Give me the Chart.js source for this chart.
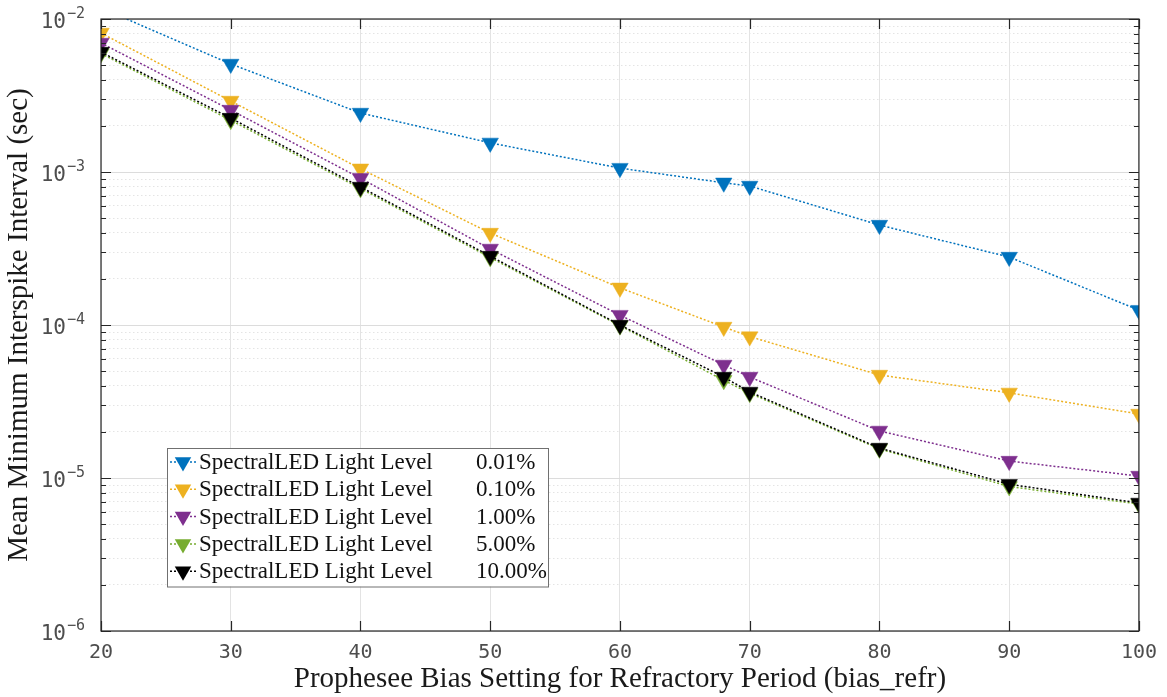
<!DOCTYPE html>
<html>
<head>
<meta charset="utf-8">
<script src="https://cdn.jsdelivr.net/npm/chart.js@4.4.1/dist/chart.umd.min.js"></script>
<style>
  html, body { margin: 0; padding: 0; background: #fff; }
  #wrap { width: 1167px; height: 697px; position: relative; }
</style>
</head>
<body>
<div id="wrap"><canvas id="isiChart"></canvas></div>
<script>
// bias_refr settings and mean minimum interspike interval (sec) per light level
const biasRefr = [20, 30, 40, 50, 60, 68, 70, 80, 90, 100];
const level001 = [1.18e-2, 5.08e-3, 2.43e-3, 1.55e-3, 1.06e-3, 8.5e-4, 8.1e-4, 4.5e-4, 2.78e-4, 1.25e-4];
const level010 = [8.1e-3, 2.91e-3, 1.05e-3, 3.99e-4, 1.75e-4, 9.7e-5, 8.4e-5, 4.71e-5, 3.6e-5, 2.62e-5];
const level100 = [6.97e-3, 2.54e-3, 9.1e-4, 3.14e-4, 1.16e-4, 5.48e-5, 4.57e-5, 2.03e-5, 1.29e-5, 1.03e-5];
const level500 = [5.95e-3, 2.18e-3, 7.8e-4, 2.76e-4, 9.9e-5, 4.35e-5, 3.58e-5, 1.55e-5, 8.8e-6, 6.75e-6];
const level1000 = [6.08e-3, 2.25e-3, 7.98e-4, 2.82e-4, 1.0e-4, 4.57e-5, 3.65e-5, 1.57e-5, 9.1e-6, 6.87e-6];

const seriesName = 'SpectralLED Light Level';
const levelLabels = ['0.01%', '0.10%', '1.00%', '5.00%', '10.00%'];
const seriesColors = ['#0072BD', '#EDB120', '#7E2F8E', '#77AC30', '#000000'];

const xTicks = [20, 30, 40, 50, 60, 70, 80, 90, 100];
const yDecades = [1e-6, 1e-5, 1e-4, 1e-3, 1e-2];
const yExponents = ['\u22126', '\u22125', '\u22124', '\u22123', '\u22122'];
const yMinorSteps = [2, 3, 4, 5, 6, 7, 8, 9];

const allSeries = [level001, level010, level100, level500, level1000];

const axisColor = '#262626';
const tickTextColor = '#4d4d4d';
const monoFont = "'DejaVu Sans Mono', monospace";
const serifFont = "'Liberation Serif', 'DejaVu Serif', serif";

function downTriangle(ctx, x, y, r, color) {
  ctx.save();
  ctx.fillStyle = color;
  ctx.beginPath();
  ctx.moveTo(x, y + r);
  ctx.lineTo(x - r * 0.866, y - r / 2);
  ctx.lineTo(x + r * 0.866, y - r / 2);
  ctx.closePath();
  ctx.fill();
  ctx.restore();
}

// box, inward ticks, y labels with superscripts, legend
const matlabAxes = {
  id: 'matlabAxes',
  afterDraw(chart) {
    const ctx = chart.ctx;
    const area = chart.chartArea;
    const xs = chart.scales.x;
    const ys = chart.scales.y;
    ctx.save();
    ctx.strokeStyle = axisColor;
    ctx.lineWidth = 1.2;
    ctx.strokeRect(area.left, area.top, area.right - area.left, area.bottom - area.top);

    ctx.beginPath();
    xTicks.forEach(v => {
      const px = Math.round(xs.getPixelForValue(v)) + 0.5;
      ctx.moveTo(px, area.bottom); ctx.lineTo(px, area.bottom - 10);
      ctx.moveTo(px, area.top); ctx.lineTo(px, area.top + 10);
    });
    yDecades.forEach((d, i) => {
      const py = Math.round(ys.getPixelForValue(d)) + 0.5;
      ctx.moveTo(area.left, py); ctx.lineTo(area.left + 10, py);
      ctx.moveTo(area.right, py); ctx.lineTo(area.right - 10, py);
      if (i < yDecades.length - 1) {
        yMinorSteps.forEach(s => {
          const pm = Math.round(ys.getPixelForValue(d * s)) + 0.5;
          ctx.moveTo(area.left, pm); ctx.lineTo(area.left + 5, pm);
          ctx.moveTo(area.right, pm); ctx.lineTo(area.right - 5, pm);
        });
      }
    });
    ctx.stroke();

    // y tick labels 10^n
    ctx.fillStyle = tickTextColor;
    ctx.textBaseline = 'middle';
    yDecades.forEach((d, i) => {
      const py = ys.getPixelForValue(d);
      ctx.font = '21px ' + monoFont;
      ctx.textAlign = 'right';
      ctx.fillText('10', 66, py + 4);
      ctx.font = '15px ' + monoFont;
      ctx.textAlign = 'left';
      ctx.fillText(yExponents[i], 67, py - 5);
    });

    // legend
    const lx = 167, ly = 448, lw = 381, rowH = 27.3;
    ctx.fillStyle = '#ffffff';
    ctx.fillRect(lx, ly, lw, rowH * levelLabels.length + 2);
    ctx.strokeStyle = '#707070';
    ctx.lineWidth = 1;
    ctx.strokeRect(lx + 0.5, ly + 0.5, lw, rowH * levelLabels.length + 2);
    levelLabels.forEach((lab, i) => {
      const cy = ly + 14 + i * rowH;
      const col = seriesColors[i];
      ctx.strokeStyle = col;
      ctx.lineWidth = 1.5;
      ctx.setLineDash([2, 2]);
      ctx.beginPath();
      ctx.moveTo(lx + 3, cy); ctx.lineTo(lx + 30, cy);
      ctx.stroke();
      ctx.setLineDash([]);
      downTriangle(ctx, lx + 16, cy, 9.5, col);
      ctx.fillStyle = '#111';
      ctx.font = '23px ' + serifFont;
      ctx.textAlign = 'left';
      ctx.textBaseline = 'middle';
      ctx.fillText(seriesName, lx + 32, cy + 1);
      ctx.fillText(lab, lx + 309, cy + 1);
    });
    ctx.restore();
  }
};

const datasets = allSeries.map((vals, i) => ({
  label: seriesName + ' ' + levelLabels[i],
  data: biasRefr.map((x, j) => ({ x: x, y: vals[j] })),
  borderColor: seriesColors[i],
  backgroundColor: seriesColors[i],
  pointBackgroundColor: seriesColors[i],
  pointBorderColor: seriesColors[i],
  borderWidth: 1.5,
  borderDash: [2, 2],
  pointStyle: 'triangle',
  rotation: 180,
  pointRadius: 9.5,
  pointBorderWidth: 0.5,
  tension: 0,
  order: allSeries.length - i
}));

new Chart(document.getElementById('isiChart'), {
  type: 'line',
  data: { datasets: datasets },
  options: {
    responsive: true,
    maintainAspectRatio: false,
    animation: false,
    layout: { padding: { left: 0, right: 26, top: 19, bottom: 0 } },
    plugins: {
      legend: { display: false },
      tooltip: { enabled: false }
    },
    scales: {
      x: {
        type: 'linear',
        min: 20,
        max: 100,
        afterBuildTicks: s => { s.ticks = xTicks.map(v => ({ value: v })); },
        afterFit: s => { s.height = 66; },
        ticks: {
          font: { family: monoFont, size: 20 },
          color: tickTextColor,
          padding: 10,
          maxRotation: 0
        },
        grid: { color: '#e3e3e3', lineWidth: 1, drawTicks: false },
        border: { display: false },
        title: {
          display: true,
          text: 'Prophesee Bias Setting for Refractory Period (bias_refr)',
          font: { family: serifFont, size: 29 },
          color: '#1a1a1a',
          padding: { top: 0, bottom: 0 }
        }
      },
      y: {
        type: 'logarithmic',
        min: 1e-6,
        max: 1e-2,
        afterBuildTicks: s => {
          const t = [];
          yDecades.forEach((d, i) => {
            t.push({ value: d, major: true });
            if (i < yDecades.length - 1) yMinorSteps.forEach(m => t.push({ value: d * m, major: false }));
          });
          s.ticks = t;
        },
        afterFit: s => { s.width = 101; },
        ticks: { display: false, autoSkip: false },
        grid: {
          color: c => (c.tick && c.tick.major) ? '#dcdcdc' : '#e4e4e4',
          lineWidth: 1,
          drawTicks: false
        },
        border: {
          display: false,
          dash: c => (c.tick && c.tick.major) ? [] : [1.5, 2.5]
        },
        title: {
          display: true,
          text: 'Mean Minimum Interspike Interval (sec)',
          font: { family: serifFont, size: 29 },
          color: '#1a1a1a',
          padding: { top: 2, bottom: 0 }
        }
      }
    }
  },
  plugins: [matlabAxes]
});
</script>
</body>
</html>
